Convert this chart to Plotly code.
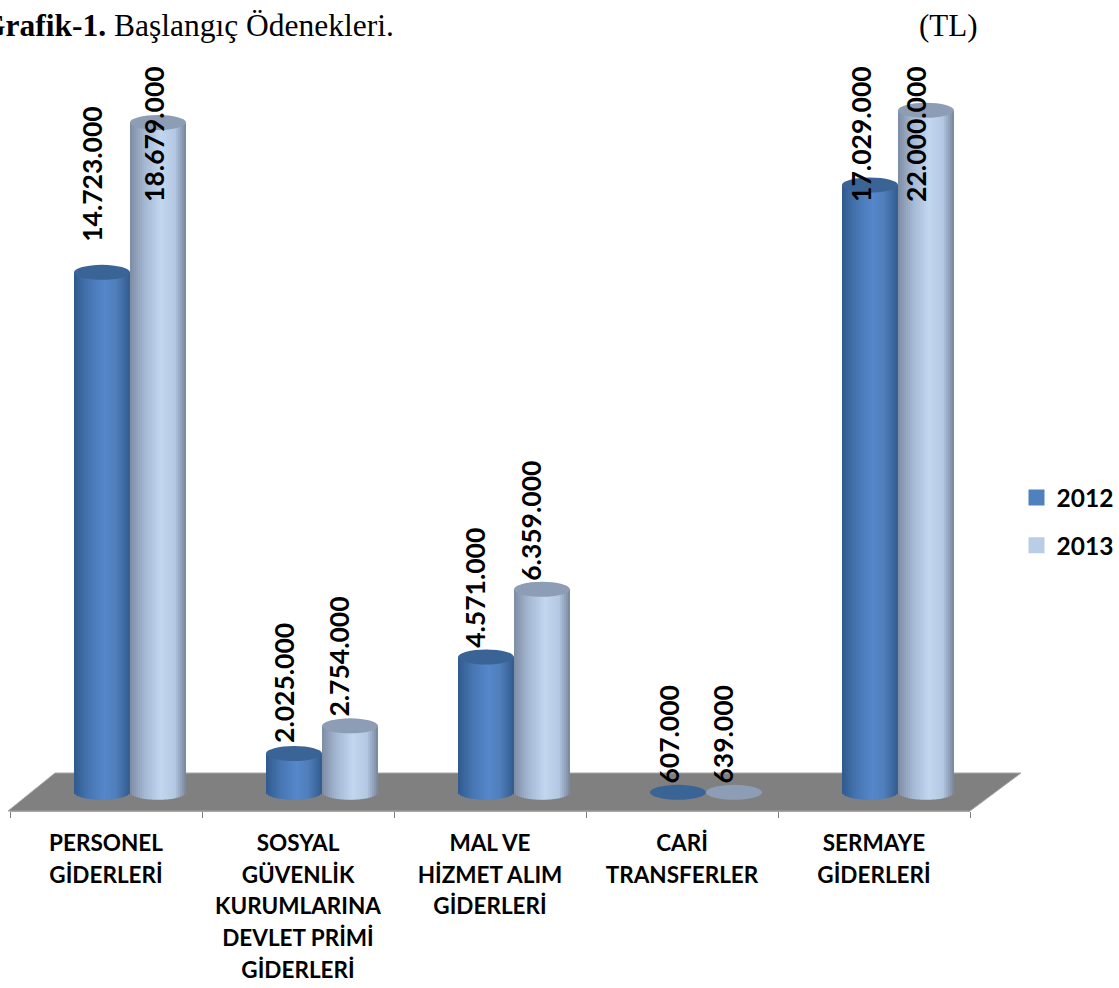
import math
import plotly.graph_objects as go

# ---- data ----
CATEGORIES = [
    "PERSONEL<br>GİDERLERİ",
    "SOSYAL<br>GÜVENLİK<br>KURUMLARINA<br>DEVLET PRİMİ<br>GİDERLERİ",
    "MAL VE<br>HİZMET ALIM<br>GİDERLERİ",
    "CARİ<br>TRANSFERLER",
    "SERMAYE<br>GİDERLERİ",
]
VALUES_2012 = [14723000, 2025000, 4571000, 607000, 17029000]
VALUES_2013 = [18679000, 2754000, 6359000, 639000, 22000000]
SERIES = ["2012", "2013"]

# ---- chart frame (the original value axis is cut at both ends) ----
W, H = 1119, 988
L, R, T, B = 10, 970, 40, 811
AXIS_FLOOR = 1000000
AXIS_CEIL = 19000000
PX_PER_UNIT = 37.89 / 1e6
Y_ZERO_PX = 830.2
Y_MIN = (Y_ZERO_PX - B) / PX_PER_UNIT
Y_MAX = (Y_ZERO_PX - T) / PX_PER_UNIT

CYL_W = 56 / 192
GROUP_SHIFT = 24 / 192
N_STRIPS = 28
ELL_PX = 7.5

STOPS = [
    [(-1, "#2F5A8E"), (-0.5, "#4675B0"), (0.1, "#5587CB"), (0.5, "#4F7EBB"), (1, "#325C8E")],
    [(-1, "#7D8CA3"), (-0.5, "#A3B6D1"), (0.1, "#C2D6F0"), (0.6, "#B4C8E3"), (1, "#76859B")],
]
TOP_COLORS = ["#3A6496", "#8C9DB5"]
LEGEND_COLORS = ["#4F81BD", "#B9CDE5"]

# label placement: pixel shift from cylinder centre, and axis value at the label's foot
LABEL_SHIFT = [[-10, -10, -11, -9, -9], [-4, -11, -11, -11, -10]]
LABEL_FOOT = [
    [15475000, 2250000, 4760000, 1165000, 16530000],
    [16530000, 2945000, 6530000, 1165000, 16530000],
]


def hex_rgb(c):
    return tuple(int(c[i:i + 2], 16) for i in (1, 3, 5))


def shade(stops, u):
    for (u0, c0), (u1, c1) in zip(stops, stops[1:]):
        if u <= u1:
            t = (u - u0) / (u1 - u0)
            a, b = hex_rgb(c0), hex_rgb(c1)
            return "rgb(%d,%d,%d)" % tuple(round(p + (q - p) * t) for p, q in zip(a, b))
    return stops[-1][1]


fig = go.Figure()
shapes = []
annotations = []

# floor
fx = lambda p: (p - L) / (R - L)
fy = lambda p: (B - p) / (B - T)
shapes.append(dict(
    type="path", xref="paper", yref="paper", layer="below",
    path=f"M {fx(8)} {fy(811)} L {fx(55)} {fy(773)} L {fx(1021)} {fy(773)} L {fx(970)} {fy(811)} Z",
    fillcolor="#808080", line=dict(color="#A6A6A6", width=1),
))

xs = list(range(len(CATEGORIES)))
for s, vals in enumerate([VALUES_2012, VALUES_2013]):
    centre = [i + GROUP_SHIFT + (s - 0.5) * CYL_W for i in xs]
    tops = [min(max(v, AXIS_FLOOR), AXIS_CEIL) for v in vals]
    for k in range(N_STRIPS):
        u = -1 + (2 * k + 1) / N_STRIPS
        dx = u * CYL_W / 2
        base = AXIS_FLOOR - (ELL_PX / PX_PER_UNIT) * math.sqrt(max(0, 1 - u * u))
        heights = [(t - base) if v > AXIS_FLOOR else 0 for t, v in zip(tops, vals)]
        fig.add_trace(go.Bar(
            x=[c + dx for c in centre], y=heights, base=[base] * len(xs),
            width=CYL_W / N_STRIPS * 1.02,
            marker=dict(color=shade(STOPS[s], u), line=dict(width=0)),
            showlegend=False, hoverinfo="skip",
        ))
    for c, t in zip(centre, tops):
        shapes.append(dict(
            type="circle", xref="x", yref="y", ysizemode="pixel", yanchor=t,
            x0=c - CYL_W / 2, x1=c + CYL_W / 2, y0=-ELL_PX, y1=ELL_PX,
            fillcolor=TOP_COLORS[s], line=dict(width=0), layer="above",
        ))
    for i, (c, v) in enumerate(zip(centre, vals)):
        annotations.append(dict(
            x=c, y=LABEL_FOOT[s][i], xref="x", yref="y", xshift=LABEL_SHIFT[s][i],
            text=f"{v:,}".replace(",", "."), textangle=-90, showarrow=False,
            yanchor="bottom", xanchor="center",
            font=dict(family="Lato", size=26.5, color="#000000", weight="bold"),
        ))
    fig.add_trace(go.Scatter(
        x=[None], y=[None], mode="markers", name=SERIES[s], legendgroup=SERIES[s],
        marker=dict(symbol="square", size=16, color=LEGEND_COLORS[s]),
    ))

# heading
annotations.append(dict(
    xref="paper", yref="paper", x=fx(-21), y=fy(25), xanchor="left", yanchor="middle",
    showarrow=False, text="<b>Grafik-1.</b> Başlangıç Ödenekleri.",
    font=dict(family="Liberation Serif", size=31.5, color="#000000"),
))
annotations.append(dict(
    xref="paper", yref="paper", x=fx(917), y=fy(25), xanchor="left", yanchor="middle",
    showarrow=False, text="(TL)",
    font=dict(family="Liberation Serif", size=31, color="#000000"),
))

edges = [i - 0.5 for i in range(len(CATEGORIES) + 1)]
tick_text = ["<br>".join(f'<span style="font-size:22.5px">{ln}</span>' for ln in c.split("<br>"))
             for c in CATEGORIES]

fig.update_layout(
    width=W, height=H, autosize=False,
    margin=dict(l=L, r=W - R, t=T, b=H - B, pad=0, autoexpand=False),
    paper_bgcolor="#FFFFFF", plot_bgcolor="rgba(0,0,0,0)",
    barmode="overlay", shapes=shapes, annotations=annotations,
    font=dict(family="Lato", color="#000000"),
    xaxis=dict(
        range=[-0.5, len(CATEGORIES) - 0.5], tickmode="array", tickvals=xs, ticktext=tick_text,
        ticks="", showgrid=False, zeroline=False, showline=True, linecolor="#A6A6A6", linewidth=1,
        tickfont=dict(family="Lato", size=24.6, color="#000000", weight="bold"),
        tickangle=0, ticklabelstandoff=9,
        minor=dict(tickmode="array", tickvals=edges, ticks="outside", ticklen=6,
                   tickcolor="#808080", tickwidth=1, showgrid=False),
    ),
    yaxis=dict(range=[Y_MIN, Y_MAX], visible=False),
    legend=dict(
        x=fx(1016.5), y=fy(475), xanchor="left", yanchor="top", tracegroupgap=13,
        itemsizing="trace", bgcolor="rgba(0,0,0,0)",
        font=dict(family="Lato", size=24.5, color="#000000", weight="bold"),
    ),
)

fig.write_html("out.html", config={"displayModeBar": False},
               post_script="document.body.style.margin='0';")
